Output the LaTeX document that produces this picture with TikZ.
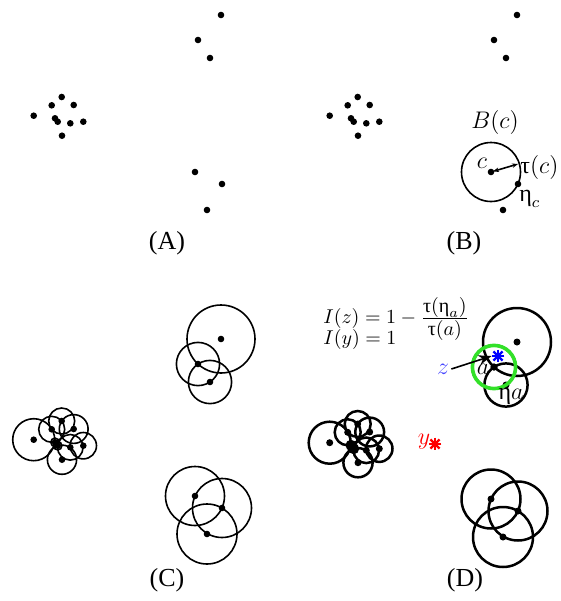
\documentclass[tikz,border=0pt]{standalone}
\usepackage{fontspec}
\setmainfont{Liberation Serif}
\usetikzlibrary{arrows.meta}

\newcommand{\tu}{\mbox{τ}}
\newcommand{\eu}{\mbox{η}}
% 点集 (x/y)
\newcommand{\ptlist}{221/15, 198/40, 210/58, 61.7/97, 51.7/105.3, 73.7/105, 33.7/115.7, 55/118.3, 57.7/121.7, 70.3/123.3, 83.3/121.7, 62/135.7, 195/172, 222/184, 207/210}
% 点集与半径 (x/y/r)
\newcommand{\ballist}{221/15/17, 198/40/10.8, 210/58/10.8, 61.7/97/6.5, 51.7/105.3/6.5, 73.7/105/7.2, 33.7/115.7/10.5, 55/118.3/2.1, 57.7/121.7/2.1, 70.3/123.3/6.4, 83.3/121.7/6.6, 62/135.7/7.3, 195/172/14.75, 222/184/14.75, 207/210/15}

\begin{document}
\begin{tikzpicture}[x=0.5pt, y=-0.5pt, >=Stealth,
    ring/.style={draw=black, line width=0.8pt},
    ringD/.style={draw=black, line width=1.25pt},
    panel/.style={font=\fontsize{13}{15}\selectfont},
    lab/.style={font=\fontsize{12}{14}\selectfont, inner sep=1pt}]
    \useasboundingbox (0,0) rectangle (561,601);

    % (A) 只有点
    \foreach \x/\y in \ptlist {
      \fill (\x,\y) circle (1.65pt);
    }
    \node[panel] (capA) at (167,243) {(A)};

    % (B) 点与 B(c)
    \begin{scope}[shift={(296,0)}]
      \foreach \x/\y in \ptlist {
        \fill (\x,\y) circle (1.65pt);
      }
      \coordinate (c) at (195,172);
      \coordinate (ctip) at (222,164);
      \draw[ring] (c) circle (14.75pt);
      \draw[{Stealth[length=3pt]}-{Stealth[length=3pt]}, thick, shorten <=1pt] (c) -- (ctip);
      \node[lab] (Bc) at (199,122) {$B(c)$};
      \node[lab] (clab) at (186,163) {$c$};
      \node[lab, anchor=west] (tauc) at (222,167) {$\tu(c)$};
      \node[lab, anchor=west] (etac) at (221,199) {$\eu_c$};
    \end{scope}
    \node[panel] (capB) at (464,243) {(B)};

    % (C) 每个点的球
    \begin{scope}[shift={(0,324)}]
      \foreach \x/\y/\r in \ballist {
        \draw[ring] (\x,\y) circle (\r pt);
        \fill (\x,\y) circle (1.65pt);
      }
    \end{scope}
    \node[panel] (capC) at (167,580) {(C)};

    % (D) 球与 z, y
    \begin{scope}[shift={(296,327)}]
      \foreach \x/\y/\r in \ballist {
        \draw[ringD] (\x,\y) circle (\r pt);
        \fill (\x,\y) circle (1.75pt);
      }
      \coordinate (a) at (198,40);
      \coordinate (etaa) at (210,58);
      \draw[draw={rgb,255:red,50;green,225;blue,40}, line width=1.8pt] (a) circle (10.8pt);
      \fill (a) circle (1.75pt);
    \end{scope}
    \node[lab] (alab) at (483,369) {$a$};
    \node[lab] (etaalab) at (511,396) {$\eu a$};

    % 星号
    \node[inner sep=0pt, minimum size=6pt] (zs) at (498,356) {};
    \foreach \a in {0,45,90,135}
      \draw[blue, line width=1.1pt] (zs.center) ++(\a:3.2pt) -- ++(\a+180:6.4pt);
    \node[inner sep=0pt, minimum size=6pt] (ys) at (435,444) {};
    \foreach \a in {0,45,90,135}
      \draw[red, line width=1.1pt] (ys.center) ++(\a:3.2pt) -- ++(\a+180:6.4pt);

    \node[lab, text={rgb,255:red,70;green,70;blue,255}] (zlab) at (443,369) {$z$};
    \node[lab, text=red] (ylab) at (424,442) {$y$};
    \draw[->, thick] (zlab.east) -- (zs.west);

    % 公式
    \node[anchor=north west, align=left, inner sep=0pt] (Ieq) at (323,297)
      {$I(z) = 1 - \frac{\textstyle \tu(\eu_a)}{\textstyle \tu(a)}$\\[-6.5pt]
       $I(y) = 1$};
    \node[panel] (capD) at (465,580) {(D)};
  \end{tikzpicture}
\end{document}
